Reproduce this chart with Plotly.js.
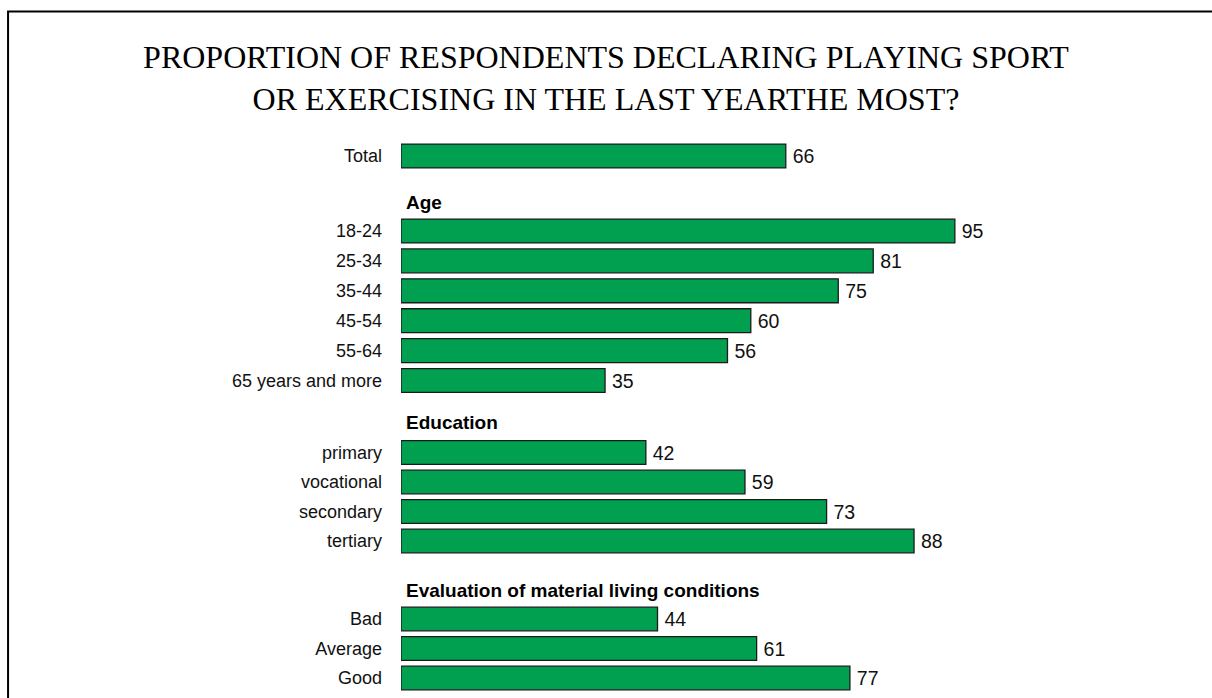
<!DOCTYPE html>
<html>
<head>
<meta charset="utf-8">
<script src="https://cdn.plot.ly/plotly-3.0.1.min.js"></script>
<style>
  html, body { margin: 0; padding: 0; background: #fff; }
  #chart { width: 1212px; height: 698px; }
</style>
</head>
<body>
<div id="chart"></div>
<script>
// ---- Data ----
const totalLabels = ["Total"];
const totalValues = [66];

const ageLabels = ["18-24", "25-34", "35-44", "45-54", "55-64", "65 years and more"];
const ageValues = [95, 81, 75, 60, 56, 35];

const eduLabels = ["primary", "vocational", "secondary", "tertiary"];
const eduValues = [42, 59, 73, 88];

const condLabels = ["Bad", "Average", "Good"];
const condValues = [44, 61, 77];

const groupHeaders = ["Age", "Education", "Evaluation of material living conditions"];
const titleText = "PROPORTION OF RESPONDENTS DECLARING PLAYING SPORT<br>OR EXERCISING IN THE LAST YEARTHE MOST?";

// ---- Layout helpers (pixel geometry of the page) ----
const H = 698;
function dom(firstCenterPx, lastCenterPx, n) {
  const pitch = n > 1 ? (lastCenterPx - firstCenterPx) / (n - 1) : 29.7;
  const top = firstCenterPx - pitch / 2;
  const bottom = lastCenterPx + pitch / 2;
  return [1 - bottom / H, 1 - top / H];
}
const domains = [
  dom(156, 156, 1),
  dom(231, 380.5, 6),
  dom(452.5, 541, 4),
  dom(619, 678, 3)
];

const barColor = "#00a050";
const edge = { color: "#1a1a1a", width: 1.3 };
const fontSans = "Liberation Sans, Arial, sans-serif";

const groups = [
  { labels: totalLabels, values: totalValues },
  { labels: ageLabels, values: ageValues },
  { labels: eduLabels, values: eduValues },
  { labels: condLabels, values: condValues }
];

const data = groups.map((g, i) => ({
  type: "bar",
  orientation: "h",
  x: g.values,
  y: g.labels,
  xaxis: "x",
  yaxis: i === 0 ? "y" : "y" + (i + 1),
  marker: { color: barColor, line: edge },
  width: 0.8,
  text: g.values.map(v => "\u2009" + v),
  textposition: "outside",
  texttemplate: "%{text}",
  textfont: { family: fontSans, size: 19.5, color: "#111" },
  cliponaxis: false,
  hoverinfo: "skip",
  showlegend: false
}));

const layout = {
  width: 1212,
  height: 698,
  paper_bgcolor: "#ffffff",
  plot_bgcolor: "rgba(0,0,0,0)",
  margin: { l: 401, r: 228, t: 0, b: 0, pad: 0 },
  showlegend: false,
  title: {
    text: titleText,
    font: { family: "Liberation Serif, Times New Roman, serif", size: 32, color: "#000" },
    xref: "container", x: 0.5, xanchor: "center",
    yref: "container", y: 1 - 68 / H, yanchor: "top"
  },
  xaxis: {
    range: [0, 100],
    visible: false,
    fixedrange: true
  },
  annotations: [],
  shapes: [
    {
      type: "path", xref: "paper", yref: "paper",
      path: "M -0.674,-0.05 L -0.674," + (1 - 11.5 / H) + " L 1.5," + (1 - 11.5 / H),
      line: { color: "#000", width: 2 }
    }
  ]
};

const headerY = [203, 422, 590];
groupHeaders.forEach((t, i) => {
  layout.annotations.push({
    text: "<b>" + t + "</b>",
    xref: "paper", yref: "paper",
    x: 3 / 583, y: 1 - headerY[i] / H,
    xanchor: "left", yanchor: "middle",
    showarrow: false,
    font: { family: fontSans, size: 19, color: "#000" }
  });
});

domains.forEach((d, i) => {
  const key = i === 0 ? "yaxis" : "yaxis" + (i + 1);
  layout[key] = {
    domain: d,
    anchor: "x",
    type: "category",
    autorange: "reversed",
    showgrid: false,
    zeroline: false,
    showline: false,
    ticks: "",
    ticklabelstandoff: 18,
    tickfont: { family: fontSans, size: 18, color: "#111" },
    fixedrange: true
  };
});

Plotly.newPlot("chart", data, layout, { displayModeBar: false, staticPlot: true });
</script>
</body>
</html>
